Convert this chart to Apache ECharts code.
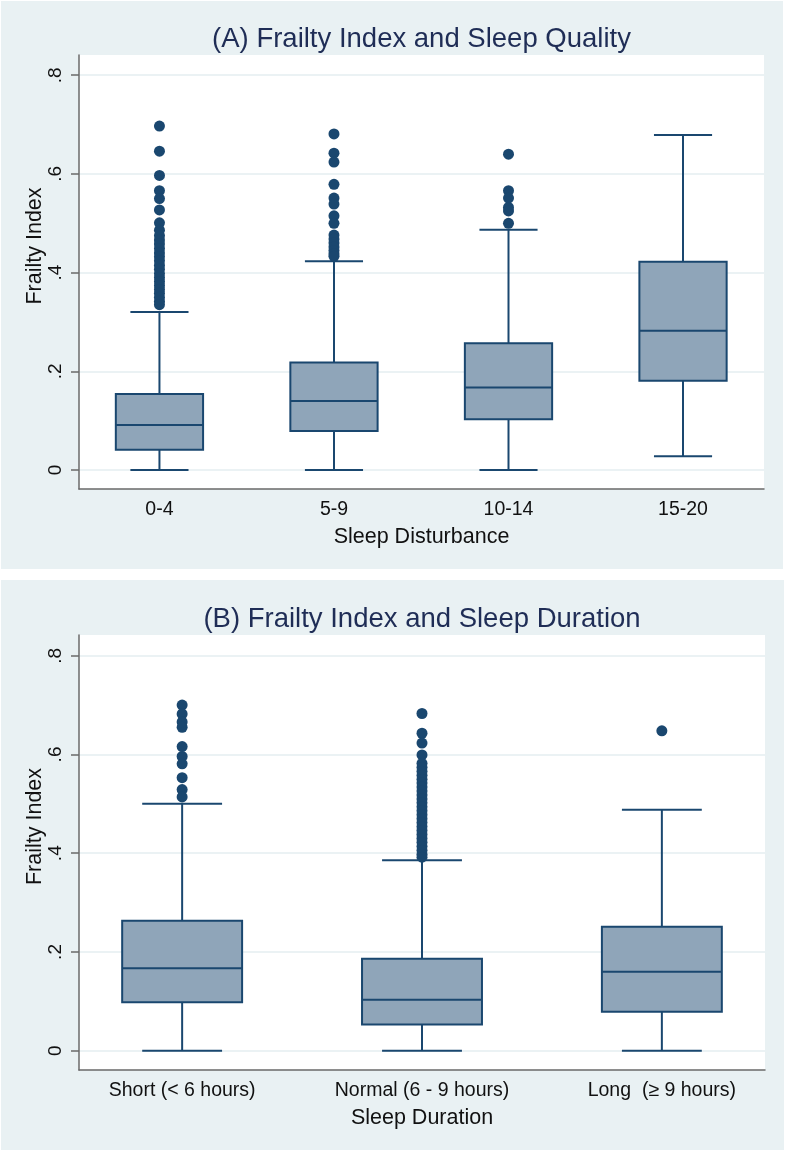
<!DOCTYPE html>
<html>
<head>
<meta charset="utf-8">
<script src="https://cdn.jsdelivr.net/npm/echarts@6/dist/echarts.min.js"></script>
<style>
html,body{margin:0;padding:0;background:#ffffff;}
#c{width:786px;height:1152px;}
</style>
</head>
<body>
<div id="c"></div>
<script>
// ---------- Panel A data ----------
const catsA = ['0-4', '5-9', '10-14', '15-20'];
const lowA  = [0, 0, 0, 0.028];
const q1A   = [0.041, 0.079, 0.103, 0.181];
const medA  = [0.091, 0.140, 0.167, 0.282];
const q3A   = [0.154, 0.218, 0.257, 0.422];
const highA = [0.320, 0.423, 0.487, 0.679];
const outA0 = [0.697, 0.646, 0.597, 0.566, 0.550, 0.527, 0.501, 0.486, 0.475, 0.466, 0.458, 0.449, 0.440, 0.432, 0.424, 0.415, 0.407, 0.398, 0.390, 0.382, 0.374, 0.366, 0.358, 0.350, 0.342, 0.335];
const outA1 = [0.681, 0.642, 0.624, 0.579, 0.551, 0.539, 0.515, 0.500, 0.476, 0.468, 0.460, 0.452, 0.445, 0.438, 0.433];
const outA2 = [0.640, 0.566, 0.551, 0.532, 0.525, 0.500];
const outA3 = [];

// ---------- Panel B data ----------
const catsB = ['Short (< 6 hours)', 'Normal (6 - 9 hours)', 'Long  (\u2265 9 hours)'];
const lowB  = [0, 0, 0];
const q1B   = [0.098, 0.053, 0.079];
const medB  = [0.167, 0.103, 0.160];
const q3B   = [0.263, 0.186, 0.251];
const highB = [0.500, 0.386, 0.488];
const outB0 = [0.700, 0.682, 0.666, 0.655, 0.616, 0.596, 0.581, 0.553, 0.529, 0.514];
const outB1 = [0.683, 0.643, 0.623, 0.599, 0.582, 0.574, 0.566, 0.558, 0.550, 0.542, 0.534, 0.526, 0.518, 0.510, 0.502, 0.494, 0.486, 0.478, 0.470, 0.462, 0.454, 0.446, 0.438, 0.430, 0.422, 0.414, 0.406, 0.398, 0.392];
const outB2 = [0.648];

const yTicks = [0, 0.2, 0.4, 0.6, 0.8];

// ---------- styling ----------
const NAVY = '#1a476f';
const FILL = '#8fa5b9';
const FONT = '"Liberation Sans", Arial, Helvetica, sans-serif';

function boxData(low, q1, med, q3, high) {
  return low.map((v, i) => [i + 1, v, q1[i], med[i], q3[i], high[i]]);
}
function outData(lists) {
  const d = [];
  lists.forEach((l, i) => l.forEach(v => d.push([i + 1, v])));
  return d;
}
function renderBox(params, api) {
  const x = api.value(0);
  const lo = api.value(1), q1 = api.value(2), md = api.value(3), q3 = api.value(4), hi = api.value(5);
  const boxW = api.size([0.5, 0])[0];
  const capW = api.size([0.333, 0])[0];
  const pLo = api.coord([x, lo]), pQ1 = api.coord([x, q1]), pMd = api.coord([x, md]);
  const pQ3 = api.coord([x, q3]), pHi = api.coord([x, hi]);
  const cx = pLo[0];
  const ls = { stroke: NAVY, lineWidth: 2, fill: null };
  return {
    type: 'group',
    children: [
      { type: 'line', shape: { x1: cx, y1: pQ3[1], x2: cx, y2: pHi[1] }, style: ls },
      { type: 'line', shape: { x1: cx, y1: pQ1[1], x2: cx, y2: pLo[1] }, style: ls },
      { type: 'line', shape: { x1: cx - capW / 2, y1: pHi[1], x2: cx + capW / 2, y2: pHi[1] }, style: ls },
      { type: 'line', shape: { x1: cx - capW / 2, y1: pLo[1], x2: cx + capW / 2, y2: pLo[1] }, style: ls },
      { type: 'rect', shape: { x: cx - boxW / 2, y: pQ3[1], width: boxW, height: pQ1[1] - pQ3[1] },
        style: { fill: FILL, stroke: NAVY, lineWidth: 2 } },
      { type: 'line', shape: { x1: cx - boxW / 2, y1: pMd[1], x2: cx + boxW / 2, y2: pMd[1] }, style: ls }
    ]
  };
}

function yAxisCfg(gridIndex, min, max) {
  return {
    type: 'value', gridIndex: gridIndex, min: min, max: max,
    name: 'Frailty Index', nameLocation: 'middle', nameGap: 33, nameMoveOverlap: false,
    nameTextStyle: { fontFamily: FONT, fontSize: 21.5, color: '#111', padding: [0, 0, 0, 52] },
    axisLine: { show: true, lineStyle: { color: '#6a6a6a', width: 1.5 } },
    axisTick: { show: true, inside: false, length: 8, customValues: yTicks, lineStyle: { color: '#6a6a6a', width: 1.5 } },
    axisLabel: {
      customValues: yTicks, rotate: 90, margin: 14,
      fontFamily: FONT, fontSize: 19, color: '#111',
      formatter: v => (Math.abs(v) < 1e-9 ? '0' : String(Math.round(v * 10) / 10).replace(/^0\./, '.'))
    },
    splitLine: { show: true, lineStyle: { color: '#e4eef1', width: 1.5 } }
  };
}
function xAxisCfg(gridIndex, min, max, cats, name) {
  return {
    type: 'value', gridIndex: gridIndex, min: min, max: max,
    name: name, nameLocation: 'middle', nameGap: 37,
    nameTextStyle: { fontFamily: FONT, fontSize: 21.5, color: '#111' },
    axisLine: { show: true, onZero: false, lineStyle: { color: '#6a6a6a', width: 1.5 } },
    axisTick: { show: false },
    splitLine: { show: false },
    axisLabel: {
      customValues: cats.map((c, i) => i + 1), margin: 11,
      fontFamily: FONT, fontSize: 19.5, color: '#111',
      formatter: v => cats[Math.round(v) - 1] || ''
    }
  };
}

const option = {
  backgroundColor: '#ffffff',
  animation: false,
  graphic: [
    { type: 'rect', z: -10, shape: { x: 1, y: 1, width: 782, height: 568 }, style: { fill: '#e9f1f3' } },
    { type: 'rect', z: -10, shape: { x: 1, y: 580, width: 783, height: 570 }, style: { fill: '#e9f1f3' } },
    { type: 'text', x: 421.5, y: 39, style: { text: '(A) Frailty Index and Sleep Quality', fontFamily: FONT, fontSize: 27.5, fill: '#1f2d56', align: 'center', verticalAlign: 'middle' } },
    { type: 'text', x: 422, y: 619, style: { text: '(B) Frailty Index and Sleep Duration', fontFamily: FONT, fontSize: 27.5, fill: '#1f2d56', align: 'center', verticalAlign: 'middle' } }
  ],
  grid: [
    { left: 79, top: 55, width: 685, height: 434, show: true, backgroundColor: '#ffffff', borderWidth: 0 },
    { left: 79, top: 635, width: 686, height: 435, show: true, backgroundColor: '#ffffff', borderWidth: 0 }
  ],
  xAxis: [
    xAxisCfg(0, 0.539, 4.464, catsA, 'Sleep Disturbance'),
    xAxisCfg(1, 0.57, 3.43, catsB, 'Sleep Duration')
  ],
  yAxis: [
    yAxisCfg(0, -0.0385, 0.841),
    yAxisCfg(1, -0.0391, 0.842)
  ],
  series: [
    { type: 'custom', xAxisIndex: 0, yAxisIndex: 0, renderItem: renderBox,
      encode: { x: 0, y: [1, 2, 3, 4, 5] }, data: boxData(lowA, q1A, medA, q3A, highA), z: 3 },
    { type: 'scatter', xAxisIndex: 0, yAxisIndex: 0, symbol: 'circle', symbolSize: 11,
      itemStyle: { color: NAVY, opacity: 1 }, data: outData([outA0, outA1, outA2, outA3]), z: 4 },
    { type: 'custom', xAxisIndex: 1, yAxisIndex: 1, renderItem: renderBox,
      encode: { x: 0, y: [1, 2, 3, 4, 5] }, data: boxData(lowB, q1B, medB, q3B, highB), z: 3 },
    { type: 'scatter', xAxisIndex: 1, yAxisIndex: 1, symbol: 'circle', symbolSize: 11,
      itemStyle: { color: NAVY, opacity: 1 }, data: outData([outB0, outB1, outB2]), z: 4 }
  ]
};

const chart = echarts.init(document.getElementById('c'), null, { renderer: 'canvas' });
chart.setOption(option);
</script>
</body>
</html>
